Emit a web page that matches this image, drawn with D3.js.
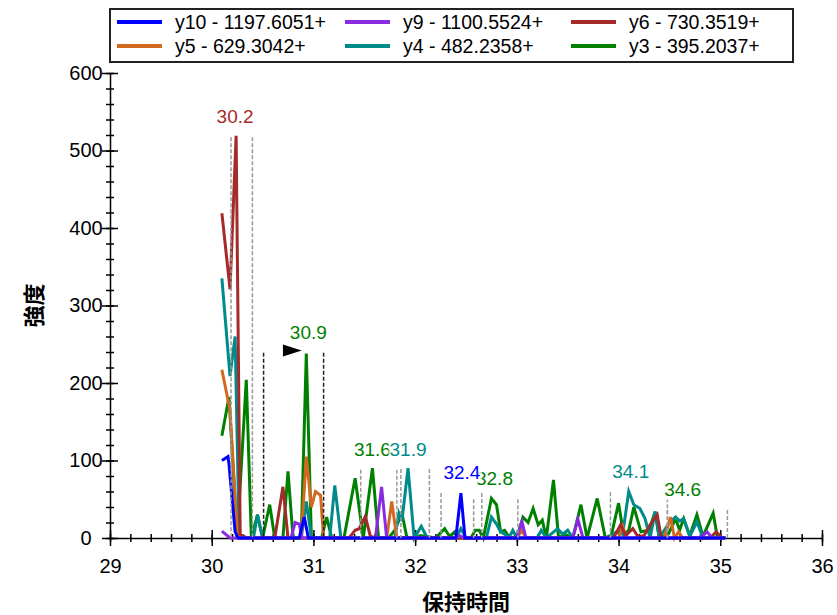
<!DOCTYPE html>
<html>
<head>
<meta charset="utf-8">
<script src="https://cdn.jsdelivr.net/npm/d3@7"></script>
<style>
  body { margin: 0; background: #fff; }
  text { font-family: "Liberation Sans", Arial, sans-serif; }
</style>
</head>
<body>
<svg id="chart" width="837" height="615"></svg>
<script>
//chromatogram, 6 transitions
var seriesNames = ["y10 - 1197.6051+", "y9 - 1100.5524+", "y6 - 730.3519+",
                   "y5 - 629.3042+", "y4 - 482.2358+", "y3 - 395.2037+"];
var seriesColors = ["#0000ff", "#8a2be2", "#a52a2a", "#d2691e", "#008b8b", "#008000"];

var xTicks = [29, 30, 31, 32, 33, 34, 35, 36];
var yTicks = [0, 100, 200, 300, 400, 500, 600];

// [retention time, intensity]
var y10Pts = [[30.10,100],[30.16,105],[30.17,95],[30.23,8],[30.26,0],[30.86,0],[30.91,27],[30.95,0],
  [32.40,0],[32.45,58],[32.49,0],[35.05,0]];
var y9Pts = [[30.10,9],[30.18,0],[30.78,0],[30.82,20],[30.86,18],[30.89,0],[31.61,0],[31.67,66],[31.72,0],
  [32.40,0],[32.44,3],[32.48,0],[33.00,0],[33.05,21],[33.09,0],[33.55,0],[33.60,24],[33.65,0],
  [34.80,0],[34.87,8],[34.92,0],[35.05,0]];
var y6Pts = [[30.10,419],[30.18,321],[30.24,519],[30.28,5],[30.31,3],[30.34,0],[30.62,0],[30.70,66],[30.75,0],
  [31.35,0],[31.41,10],[31.45,12],[31.51,28],[31.56,2],[31.62,0],[33.95,0],[34.02,17],[34.07,3],
  [34.14,12],[34.19,2],[34.25,3],[34.31,17],[34.38,30],[34.42,0],[34.90,0],[34.96,8],[35.02,0]];
var y5Pts = [[30.10,217],[30.18,165],[30.25,10],[30.28,0],[30.88,0],[30.93,105],[30.98,40],[31.02,60],
  [31.07,55],[31.10,0],[31.72,0],[31.77,47],[31.82,0],[33.00,0],[33.05,10],[33.09,0],[34.00,0],
  [34.04,15],[34.08,0],[34.45,0],[34.51,27],[34.55,0],[34.59,8],[34.63,0],[35.05,0]];
var y4Pts = [[30.10,335],[30.18,209],[30.23,260],[30.27,0],[30.41,0],[30.45,30],[30.50,0],[30.88,0],
  [30.93,47],[30.98,0],[31.16,0],[31.21,68],[31.27,0],[31.80,0],[31.84,32],[31.87,22],[31.93,90],
  [31.99,0],[32.06,15],[32.12,0],[32.40,0],[32.45,12],[32.50,0],[32.70,0],[32.75,27],[32.80,18],
  [32.84,8],[32.88,5],[32.92,0],[32.96,10],[33.00,0],[33.20,0],[33.24,10],[33.29,0],[33.40,12],
  [33.45,5],[33.50,10],[33.55,0],[33.90,0],[33.98,8],[34.04,5],[34.10,60],[34.15,43],[34.21,38],
  [34.26,25],[34.31,0],[34.36,34],[34.40,0],[34.50,20],[34.56,27],[34.60,22],[34.64,25],[34.70,2],
  [34.77,21],[34.83,0],[35.05,0]];
var y3Pts = [[30.10,132],[30.17,182],[30.25,0],[30.34,204],[30.39,0],[30.45,30],[30.50,0],[30.57,43],
  [30.62,0],[30.70,0],[30.75,86],[30.80,0],[30.88,0],[30.93,238],[30.98,0],[31.08,0],[31.13,27],
  [31.18,0],[31.30,0],[31.41,77],[31.49,0],[31.58,90],[31.64,0],[31.74,0],[31.80,10],[31.87,32],
  [31.92,0],[32.00,0],[32.05,3],[32.20,0],[32.29,12],[32.34,2],[32.39,8],[32.43,0],[32.55,0],
  [32.59,10],[32.63,10],[32.67,0],[32.75,51],[32.80,43],[32.84,8],[32.88,10],[32.93,0],[33.00,0],
  [33.06,27],[33.11,20],[33.16,38],[33.21,17],[33.25,23],[33.29,0],[33.36,75],[33.41,0],[33.47,5],
  [33.55,0],[33.63,43],[33.69,0],[33.72,15],[33.79,51],[33.87,0],[33.93,4],[34.00,45],[34.05,4],
  [34.10,10],[34.15,40],[34.22,8],[34.30,10],[34.36,34],[34.40,0],[34.49,5],[34.56,25],[34.60,10],
  [34.64,25],[34.70,3],[34.77,30],[34.83,2],[34.93,32],[34.97,2],[35.05,0]];
var seriesPts = [y10Pts, y9Pts, y6Pts, y5Pts, y4Pts, y3Pts];

// peak integration boundaries: time, height
var boundT = [30.19, 30.40, 30.51, 31.10, 31.465, 31.82, 31.86, 32.14, 32.255, 32.575, 32.655, 33.01, 33.92, 34.48, 34.48, 35.07];
var boundV = [517, 517, 239, 239, 88, 88, 89, 89, 58, 50, 58, 50, 59, 59, 36, 36];
var boundSel = [false, false, true, true, false, false, false, false, false, false, false, false, false, false, false, false];

// peak labels
var peakText = ["30.2", "30.9", "31.6", "31.9", "32.8", "32.4", "34.1", "34.6"];
var peakT = [30.23, 30.95, 31.58, 31.93, 32.78, 32.46, 34.12, 34.63];
var peakV = [517, 239, 88, 88, 50, 58, 59, 36];
var peakColor = ["#a52a2a", "#008000", "#008000", "#008b8b", "#008000", "#0000ff", "#008b8b", "#008000"];

var width = 837, height = 615;
var margin = {top: 73, right: 15, bottom: 77, left: 110};

var svg = d3.select("#chart");

var x = d3.scaleLinear().domain([29, 36]).range([margin.left, width - margin.right]);
var y = d3.scaleLinear().domain([0, 600]).range([height - margin.bottom, margin.top]);

/////axes
var xAxis = svg.append("g")
  .attr("transform", "translate(0," + y(0) + ")")
  .call(d3.axisBottom(x).tickValues(xTicks).tickFormat(d3.format("d")).tickSizeOuter(0).tickPadding(15));
xAxis.selectAll(".tick line").attr("y1", -8).attr("y2", 8);

var xMinor = svg.append("g")
  .attr("transform", "translate(0," + y(0) + ")")
  .call(d3.axisBottom(x).tickValues(x.ticks(35)).tickFormat("").tickSizeOuter(0));
xMinor.selectAll(".tick line").attr("y1", -4).attr("y2", 4);
xMinor.select(".domain").remove();

var yAxis = svg.append("g")
  .attr("transform", "translate(" + x(29) + ",0)")
  .call(d3.axisLeft(y).tickValues(yTicks).tickSizeOuter(0).tickPadding(14));
yAxis.selectAll(".tick line").attr("x1", -8).attr("x2", 8);
yAxis.selectAll(".tick text").attr("text-anchor", "middle").attr("x", -24);

var yMinor = svg.append("g")
  .attr("transform", "translate(" + x(29) + ",0)")
  .call(d3.axisLeft(y).tickValues(y.ticks(30)).tickFormat("").tickSizeOuter(0));
yMinor.selectAll(".tick line").attr("x1", -4).attr("x2", 4);
yMinor.select(".domain").remove();

svg.selectAll(".domain, .tick line").attr("stroke", "#000").attr("stroke-width", 1.5);
svg.selectAll(".tick text")
  .attr("font-family", "Liberation Sans, Arial, sans-serif")
  .attr("font-size", 20).attr("fill", "#000");

// axis titles
svg.append("text")
  .attr("x", (x(29) + x(36)) / 2).attr("y", 610)
  .attr("text-anchor", "middle")
  .style("font-family", "'Noto Sans CJK JP', sans-serif")
  .style("font-weight", "bold").style("font-size", "22px")
  .text("保持時間");
svg.append("text")
  .attr("transform", "translate(42," + y(300) + ") rotate(-90)")
  .attr("text-anchor", "middle")
  .style("font-family", "'Noto Sans CJK JP', sans-serif")
  .style("font-weight", "bold").style("font-size", "22px")
  .text("強度");

/////traces, y3 at the bottom and y10 on top
var line = d3.line()
  .x(function (d) { return x(d[0]); })
  .y(function (d) { return y(d[1]); });

var order = [5, 4, 3, 2, 1, 0];
var traces = svg.append("g");
order.forEach(function (i) {
  traces.append("path")
    .datum(seriesPts[i])
    .attr("fill", "none")
    .attr("stroke", seriesColors[i])
    .attr("stroke-width", 3)
    .attr("d", line);
});

//boundaries
svg.append("g").selectAll("line")
  .data(boundT)
  .enter().append("line")
  .attr("x1", function (d) { return x(d); })
  .attr("x2", function (d) { return x(d); })
  .attr("y1", function (d, i) { return y(boundV[i]); })
  .attr("y2", y(0))
  .attr("stroke", function (d, i) { return boundSel[i] ? "#222" : "#999"; })
  .attr("stroke-width", 1.5)
  .attr("stroke-dasharray", "4,2");

// selected-peak arrow
var ay = y(242);
svg.append("path")
  .attr("d", "M" + x(30.70) + "," + (ay - 6) + "L" + x(30.885) + "," + ay + "L" + x(30.70) + "," + (ay + 6) + "Z")
  .attr("fill", "#000");

//peak labels, each on a faint white box
peakText.forEach(function (t, i) {
  var g = svg.append("g");
  var bx = y(peakV[i]) - 14;
  var txt = g.append("text")
    .attr("x", x(peakT[i])).attr("y", bx)
    .attr("text-anchor", "middle")
    .attr("font-size", 19)
    .attr("fill", peakColor[i])
    .text(t);
  var bb = txt.node().getBBox();
  g.insert("rect", "text")
    .attr("x", bb.x - 1).attr("y", bb.y)
    .attr("width", bb.width + 2).attr("height", bb.height)
    .attr("fill", "#fff").attr("fill-opacity", 0.75);
});

/////legend
var legend = svg.append("g");
legend.append("rect")
  .attr("x", 110).attr("y", 9).attr("width", 683).attr("height", 53)
  .attr("fill", "#fff").attr("stroke", "#222").attr("stroke-width", 2);
var colX = [117, 345, 571];
var rowY = [22, 46];
seriesNames.forEach(function (name, i) {
  var cx = colX[i % 3], cy = rowY[Math.floor(i / 3)];
  legend.append("line")
    .attr("x1", cx).attr("x2", cx + 45)
    .attr("y1", cy).attr("y2", cy)
    .attr("stroke", seriesColors[i]).attr("stroke-width", 4);
  legend.append("text")
    .attr("x", cx + 58).attr("y", cy + 7)
    .attr("font-size", 19.5)
    .text(name);
});
</script>
</body>
</html>
